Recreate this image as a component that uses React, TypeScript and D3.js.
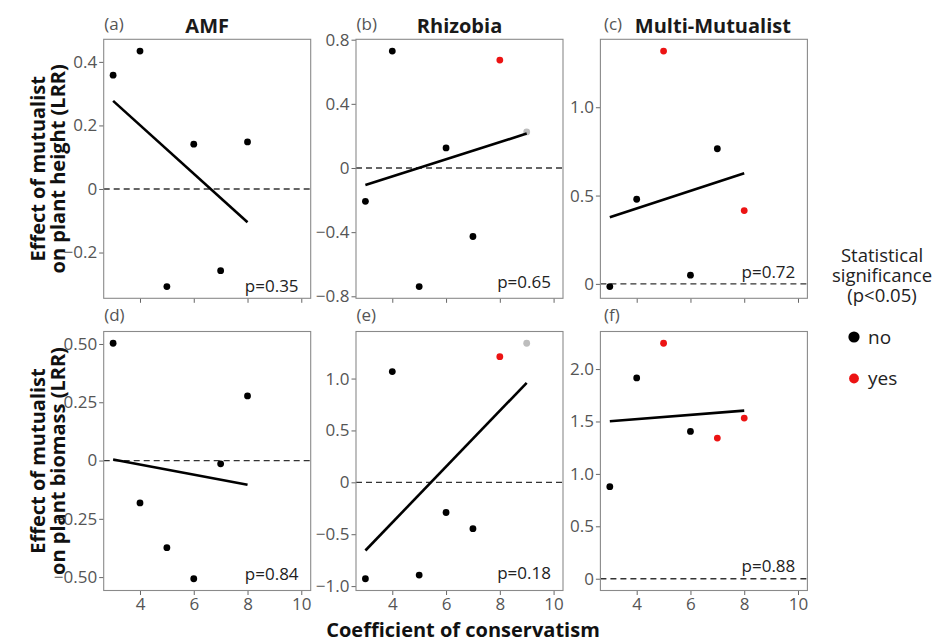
import React, { useRef, useEffect } from "react";
import * as d3 from "d3";

// coefficient of conservatism (x) for each mutualist group
const coefAMF = [3, 4, 5, 6, 7, 8];
const coefRhizobia = [3, 4, 5, 6, 7, 8, 9];
const coefMulti = [3, 4, 5, 6, 7, 8];

// log response ratios
const heightAMF = [0.358, 0.434, -0.307, 0.141, -0.257, 0.148];
const heightRhizobia = [-0.208, 0.729, -0.739, 0.125, -0.427, 0.673, 0.225];
const heightMulti = [-0.015, 0.479, 1.318, 0.049, 0.765, 0.415];
const biomassAMF = [0.503, -0.182, -0.374, -0.507, -0.014, 0.277];
const biomassRhizobia = [-0.929, 1.067, -0.894, -0.291, -0.447, 1.211, 1.34];
const biomassMulti = [0.878, 1.915, 2.246, 1.405, 1.342, 1.532];

// statistical significance (p<0.05); null = not available
const sigHeightAMF = ["no", "no", "no", "no", "no", "no"];
const sigHeightRhizobia = ["no", "no", "no", "no", "no", "yes", null];
const sigHeightMulti = ["no", "no", "yes", "no", "no", "yes"];
const sigBiomassAMF = ["no", "no", "no", "no", "no", "no"];
const sigBiomassRhizobia = ["no", "no", "no", "no", "no", "yes", null];
const sigBiomassMulti = ["no", "no", "yes", "no", "yes", "yes"];

const mutualists = ["AMF", "Rhizobia", "Multi-Mutualist"];
const tags = ["(a)", "(b)", "(c)", "(d)", "(e)", "(f)"];
const pValues = ["p=0.35", "p=0.65", "p=0.72", "p=0.84", "p=0.18", "p=0.88"];

const xTicks = [4, 6, 8, 10];
const xLimits = [3, 10];
const yTicks = [
  [-0.2, 0, 0.2, 0.4],
  [-0.8, -0.4, 0, 0.4, 0.8],
  [0, 0.5, 1.0],
  [-0.5, -0.25, 0, 0.25, 0.5],
  [-1.0, -0.5, 0, 0.5, 1.0],
  [0, 0.5, 1.0, 1.5, 2.0],
];
const yTickLabels = [
  ["\u22120.2", "0", "0.2", "0.4"],
  ["\u22120.8", "\u22120.4", "0", "0.4", "0.8"],
  ["0", "0.5", "1.0"],
  ["\u22120.50", "\u22120.25", "0", "0.25", "0.50"],
  ["\u22121.0", "\u22120.5", "0", "0.5", "1.0"],
  ["0", "0.5", "1.0", "1.5", "2.0"],
];

const legendLevels = ["no", "yes"];
const sigColor = { no: "#000000", yes: "#ec1313" };
const naColor = "#bdbdbd";

const panels = [
  { x: coefAMF, y: heightAMF, sig: sigHeightAMF },
  { x: coefRhizobia, y: heightRhizobia, sig: sigHeightRhizobia },
  { x: coefMulti, y: heightMulti, sig: sigHeightMulti },
  { x: coefAMF, y: biomassAMF, sig: sigBiomassAMF },
  { x: coefRhizobia, y: biomassRhizobia, sig: sigBiomassRhizobia },
  { x: coefMulti, y: biomassMulti, sig: sigBiomassMulti },
];

const colX = [103.7, 356, 600.4];
const rowY = [39.3, 331.5];
const panelW = 207;
const panelH = 259;
const pOffset = [6.3, 10.4, 20, 10.7, 11.4, 19];
const font = "'Open Sans', 'Noto Sans', sans-serif";

const expand = ([a, b]) => {
  const pad = (b - a) * 0.05;
  return [a - pad, b + pad];
};

const fitLine = (xs, ys) => {
  const mx = d3.mean(xs), my = d3.mean(ys);
  const sxy = d3.sum(xs, (x, i) => (x - mx) * (ys[i] - my));
  const sxx = d3.sum(xs, x => (x - mx) ** 2);
  const slope = sxy / sxx;
  const x0 = d3.min(xs), x1 = d3.max(xs);
  return [
    [x0, my + slope * (x0 - mx)],
    [x1, my + slope * (x1 - mx)],
  ];
};

const App = () => {
  const svgRef = useRef(null);

  useEffect(() => {
    const svg = d3.select(svgRef.current);
    svg.selectAll("*").remove();

    panels.forEach((p, i) => {
      const col = i % 3, row = Math.floor(i / 3);
      const left = colX[col], top = rowY[row];
      const g = svg.append("g").attr("transform", `translate(${left},${top})`);

      const fit = fitLine(p.x, p.y);
      const yExt = d3.extent([...p.y, 0, fit[0][1], fit[1][1]]);

      const x = d3.scaleLinear().domain(expand(xLimits)).range([0, panelW]);
      const y = d3.scaleLinear().domain(expand(yExt)).range([panelH, 0]);

      // y axis
      const ya = g.append("g")
        .call(d3.axisLeft(y).tickValues(yTicks[i])
          .tickFormat((d, k) => yTickLabels[i][k]).tickSize(4.5).tickPadding(2));
      ya.select(".domain").remove();
      ya.selectAll("line").attr("stroke", "#666");
      ya.selectAll("text").attr("fill", "#555").style("font-size", "17px").style("font-family", font);

      // x axis
      const xa = g.append("g").attr("transform", `translate(0,${panelH})`)
        .call(d3.axisBottom(x).tickValues(xTicks).tickSize(4.5).tickPadding(3)
          .tickFormat(row === 1 ? d3.format("d") : () => ""));
      xa.select(".domain").remove();
      xa.selectAll("line").attr("stroke", "#666");
      xa.selectAll("text").attr("fill", "#555").style("font-size", "17px").style("font-family", font);

      // reference line at zero
      g.append("line")
        .attr("x1", 0).attr("x2", panelW)
        .attr("y1", y(0)).attr("y2", y(0))
        .attr("stroke", "#333").attr("stroke-width", 1.3)
        .attr("stroke-dasharray", "6,4");

      // points
      g.selectAll(".pt")
        .data(p.x.map((xv, k) => ({ xv, yv: p.y[k], s: p.sig[k] })))
        .enter()
        .append("circle")
        .attr("cx", d => x(d.xv))
        .attr("cy", d => y(d.yv))
        .attr("r", 3.4)
        .attr("fill", d => (d.s ? sigColor[d.s] : naColor));

      // fitted line
      g.append("path")
        .attr("d", d3.line().x(d => x(d[0])).y(d => y(d[1]))(fit))
        .attr("stroke", "#000").attr("stroke-width", 2.6).attr("fill", "none");

      // panel border
      g.append("rect")
        .attr("width", panelW).attr("height", panelH)
        .attr("fill", "none").attr("stroke", "#8a8a8a").attr("stroke-width", 1.1);

      // p value
      g.append("text")
        .attr("x", x(8.9)).attr("y", panelH - pOffset[i])
        .attr("text-anchor", "middle")
        .attr("fill", "#222").style("font-size", "17px").style("font-family", font)
        .text(pValues[i]);

      // tag
      g.append("text")
        .attr("x", col === 2 ? 3.5 : 0.5).attr("y", row === 0 ? 30 - top : 321 - top)
        .attr("fill", "#555").style("font-size", "17px").style("font-family", font)
        .text(tags[i]);

      if (row === 0) {
        g.append("text")
          .attr("x", col === 2 ? panelW / 2 + 9 : panelW / 2).attr("y", 33 - top)
          .attr("text-anchor", "middle")
          .attr("fill", "#1a1a1a").style("font-size", "20px").style("font-weight", "bold")
          .style("font-family", font)
          .text(mutualists[col]);
      }
    });

    // y axis titles
    const yTitles = [
      ["Effect of mutualist", "on plant height (LRR)"],
      ["Effect of mutualist", "on plant biomass (LRR)"],
    ];
    yTitles.forEach((lines, r) => {
      const cy = rowY[r] + panelH / 2;
      lines.forEach((t, k) => {
        const bx = k === 0 ? 45 : 64.5;
        svg.append("text")
          .attr("transform", `translate(${bx},${cy}) rotate(-90)`)
          .attr("text-anchor", "middle")
          .attr("fill", "#111").style("font-size", "20px").style("font-weight", "bold")
          .style("font-family", font)
          .text(t);
      });
    });

    // x axis title
    svg.append("text")
      .attr("x", 463).attr("y", 637)
      .attr("text-anchor", "middle")
      .attr("fill", "#111").style("font-size", "20px").style("font-weight", "bold")
      .style("font-family", font)
      .text("Coefficient of conservatism");

    // legend
    const leg = svg.append("g");
    ["Statistical", "significance", "(p<0.05)"].forEach((t, k) => {
      leg.append("text")
        .attr("x", 882).attr("y", 262 + k * 20)
        .attr("text-anchor", "middle")
        .attr("fill", "#222").style("font-size", "18.5px").style("font-family", font)
        .text(t);
    });
    legendLevels.forEach((lv, k) => {
      const cy = 337 + k * 41.5;
      leg.append("circle")
        .attr("cx", 854).attr("cy", cy).attr("r", k === 0 ? 5.6 : 4.9)
        .attr("fill", sigColor[lv]);
      leg.append("text")
        .attr("x", 868).attr("y", cy + 6.5)
        .attr("fill", "#222").style("font-size", "19px").style("font-family", font)
        .text(lv);
    });
  }, []);

  return (
    <svg
      ref={svgRef}
      width={941}
      height={643}
      style={{ position: "absolute", left: 0, top: 0, background: "#fff" }}
    ></svg>
  );
};

export default App;
